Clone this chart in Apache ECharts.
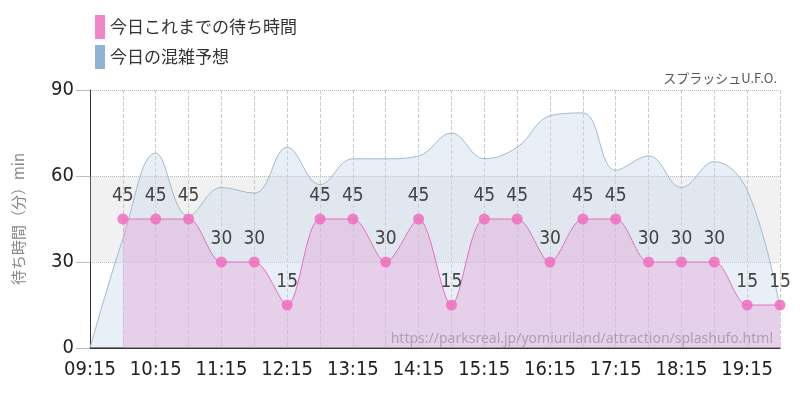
<!DOCTYPE html>
<html><head><meta charset="utf-8">
<script src="https://cdn.jsdelivr.net/npm/echarts@6/dist/echarts.min.js"></script>
<style>body{margin:0}#c{width:800px;height:400px}</style></head>
<body><div id="c"></div>
<script>
const times=['09:15','09:45','10:15','10:45','11:15','11:45','12:15','12:45','13:15','13:45','14:15','14:45','15:15','15:45','16:15','16:45','17:15','17:45','18:15','18:45','19:15','19:45'];
const actual=[null,45,45,45,30,30,15,45,45,30,45,15,45,45,30,45,45,30,30,30,15,15];
const forecast=[0,38,68,46,56,54,70,57,66,66,67,75,66,70,81,82,62,67,56,65,55,14];
const yTicks=[0,30,60,90];
const c=echarts.init(document.getElementById('c'));
const F='"DejaVu Sans Condensed","Roboto",sans-serif';
c.setOption({
 animation:false,
 legend:{orient:'vertical',left:90,top:10,itemWidth:10,itemHeight:24,itemGap:6,icon:'rect',
   textStyle:{fontSize:17,color:'#333',fontFamily:'"Noto Sans CJK JP"'},
   data:['今日これまでの待ち時間','今日の混雑予想']},
 title:[{text:'スプラッシュU.F.O.',right:18,top:67,textStyle:{fontSize:13,fontWeight:'normal',color:'#555',fontFamily:'"Noto Sans CJK JP"'}},
   {text:'https://parksreal.jp/yomiuriland/attraction/splashufo.html',right:22,top:327,textStyle:{fontSize:14,fontWeight:'normal',color:'rgba(120,120,140,0.55)',fontFamily:'"Noto Sans"'}}],
 grid:{left:90,right:20,top:90,bottom:52},
 xAxis:{type:'category',data:times,boundaryGap:false,
   axisLine:{lineStyle:{color:'#000',width:1.5}},axisTick:{show:false},
   axisLabel:{interval:1,fontSize:20,color:'#222',fontFamily:F,margin:12},
   splitLine:{show:true,interval:0,lineStyle:{type:'dashed',color:'#ccc'}}},
 yAxis:{type:'value',min:0,max:90,interval:30,name:'待ち時間（分）min',nameLocation:'middle',nameGap:64,
   nameTextStyle:{fontSize:15,color:'#888',fontFamily:'"Noto Sans CJK JP"'},
   axisLine:{show:true,lineStyle:{color:'#333'}},axisTick:{show:true,length:14,lineStyle:{color:'#bbb'}},
   axisLabel:{fontSize:20,color:'#222',fontFamily:F,margin:16,formatter:v=>yTicks.includes(v)?v:''},
   splitLine:{lineStyle:{type:'dotted',color:'#bbb'}}},
 series:[
  {name:'今日の混雑予想',type:'line',smooth:0.4,data:forecast,symbol:'none',z:1,
   itemStyle:{color:'#8fb3d3'},lineStyle:{color:'#9dbbd6',width:1},areaStyle:{color:'rgba(200,218,235,0.6)'},
   markArea:{silent:true,itemStyle:{color:'rgba(200,200,200,0.25)'},data:[[{yAxis:30},{yAxis:60}]]}},
  {name:'今日これまでの待ち時間',type:'line',smooth:0.3,data:actual,symbol:'circle',symbolSize:11,z:2,
   itemStyle:{color:'rgba(240,110,190,0.85)'},lineStyle:{color:'#e070c0',width:1},areaStyle:{color:'rgba(230,160,210,0.55)'},
   label:{show:true,position:'top',distance:8,fontSize:19,color:'#444',fontFamily:F}}
 ]
});
</script></body></html>
